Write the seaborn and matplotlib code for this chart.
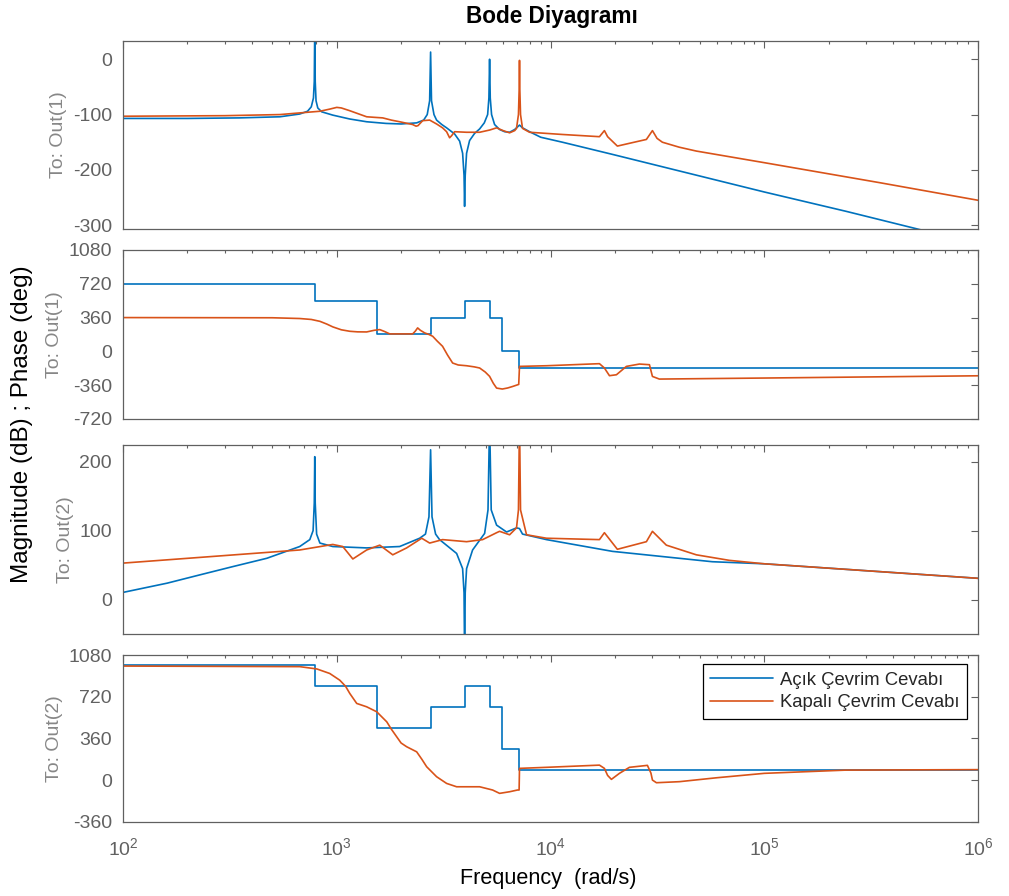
import matplotlib
matplotlib.use("Agg")
import matplotlib.pyplot as plt
import seaborn as sns
from matplotlib.ticker import LogLocator, NullFormatter, FixedLocator

# ---- frequency responses (rad/s, dB, deg) ----
# Output 1, magnitude
mag1_open_w = [100, 200, 350, 542, 671, 730, 760, 778, 785, 789, 793, 800, 815, 850, 958, 1150,
               1380, 1700, 2000, 2365, 2550, 2650, 2720, 2748, 2775, 2850, 2931, 3100, 3265,
               3558, 3757, 3880, 3940, 3963, 3990, 4049, 4182, 4415, 4660, 4900, 5080, 5150,
               5188, 5225, 5300, 5475, 5778, 6100, 6435, 6800, 7160, 7398, 7980, 9000, 11370,
               19480, 40070, 100000, 241400, 546700]
mag1_open_db = [-107, -107, -106, -104, -99, -94, -86, -70, -40, 60, -40, -75, -88, -95, -101, -108,
                -113, -116, -117, -115, -110, -100, -75, 13, -75, -100, -110, -118, -124,
                -135, -148, -170, -210, -266, -210, -170, -147, -134, -126, -115, -100, -70,
                0, -70, -100, -118, -127, -131, -132, -127, -119, -124, -131, -141, -150,
                -172, -202, -240, -275, -309]

mag1_closed_w = [100, 300, 542, 671, 834, 930, 1000, 1050, 1150, 1380, 1500, 1641, 1800, 1969,
                 2265, 2350, 2400, 2523, 2721, 2931, 3126, 3265, 3373, 3450, 3558, 4049, 4660,
                 5188, 5594, 6000, 6435, 6800, 6933, 7080, 7140, 7160, 7180, 7240, 7398, 7980,
                 11370, 16940, 17870, 18500, 20550, 24000, 28090, 29980, 31500, 33370, 40000,
                 48100, 100000, 344500, 1000000]
mag1_closed_db = [-103, -102, -100, -97, -94, -90, -87, -88, -93, -104, -105, -106, -110, -113,
                  -118, -121, -120, -111, -110, -117, -124, -131, -142, -138, -131, -132, -132,
                  -128, -124, -129, -133, -129, -125, -100, -50, -2, -50, -100, -125, -132,
                  -136, -140, -129, -140, -157, -151, -145, -129, -143, -150, -159,
                  -166, -187, -223, -255]

# Output 1, phase
ph1_open_w = [100, 789, 1538, 2748, 3963, 5188, 5904, 7160, 1000000]
ph1_open_deg = [720, 540, 180, 360, 540, 360, 0, -180, -180]

ph1_closed_w = [100, 500, 671, 760, 834, 900, 958, 1050, 1151, 1250, 1380, 1500, 1589, 1680,
                1770, 2265, 2330, 2390, 2460, 2577, 2700, 2810, 2950, 3126, 3300, 3484, 3700,
                4049, 4400, 4660, 4950, 5188, 5400, 5594, 5950, 6300, 6647, 7100, 7160, 9580,
                16940, 17870, 18870, 20340, 22650, 26050, 29030, 29980, 32300, 100000, 1000000]
ph1_closed_deg = [360, 358, 350, 340, 320, 290, 261, 230, 214, 208, 207, 225, 232, 210,
                  186, 186, 215, 250, 225, 197, 180, 161, 110, 54, -40, -124, -145,
                  -153, -165, -177, -220, -266, -340, -391, -401, -390, -374, -352, -160, -153,
                  -131, -177, -259, -249, -160, -135, -142, -267, -295, -284, -260]

# Output 2, magnitude
mag2_open_w = [100, 161, 229, 327, 471, 671, 748, 775, 785, 789, 793, 805, 834, 958, 1380, 1969,
               2443, 2600, 2700, 2748, 2790, 2900, 3027, 3637, 3880, 3940, 3963, 3990, 4049,
               4320, 4918, 5100, 5188, 5280, 5594, 6230, 6933, 7160, 7398, 9580, 19480, 57150,
               100000, 1000000]
mag2_open_db = [10.6, 24, 36, 48, 60, 77, 87, 100, 140, 207, 140, 95, 82, 77, 75, 77,
                89, 95, 120, 217, 120, 95, 87, 67, 45, 10, -80, 10, 45,
                72, 96, 130, 260, 130, 108, 98, 104, 103, 95, 87, 70, 55,
                52, 31]

mag2_closed_w = [100, 671, 958, 1067, 1189, 1380, 1589, 1828, 2123, 2497, 2721, 3126, 4049,
                 4813, 5594, 5778, 6435, 6933, 7080, 7160, 7240, 7724, 9580, 16940, 17870,
                 20550, 28090, 29980, 34820, 48100, 68570, 100000, 1000000]
mag2_closed_db = [53, 72, 80, 77, 59, 72, 79, 65, 75, 89, 82, 87, 84,
                  87, 97, 99, 94, 104, 130, 260, 130, 94, 89, 87, 97,
                  73, 84, 99, 79, 65, 57, 52, 31]

# Output 2, phase
ph2_open_w = [100, 789, 1538, 2748, 3963, 5188, 5904, 7160, 1000000]
ph2_open_deg = [990, 810, 450, 630, 810, 630, 270, 90, 90]

ph2_closed_w = [100, 671, 807, 927, 1033, 1100, 1151, 1240, 1380, 1538, 1714, 1800, 1907, 2000,
                2123, 2365, 2500, 2634, 2931, 3265, 3637, 4660, 5358, 5778, 6435, 7009, 7130,
                7160, 9580, 16940, 17870, 18500, 19270, 21010, 23400, 28400, 29500, 29980,
                31290, 40070, 60000, 100000, 241400, 1000000]
ph2_closed_deg = [985, 980, 960, 921, 863, 810, 748, 662, 633, 590, 503, 440, 374, 320,
                  288, 244, 180, 115, 29, -29, -58, -58, -86, -115, -101, -86, -86,
                  101, 110, 129, 101, 40, 6, 58, 110, 127, 60, 0,
                  -23, -14, 20, 58, 86, 90]

series_labels = ["Açık Çevrim Cevabı", "Kapalı Çevrim Cevabı"]
row_labels = ["To: Out(1)", "To: Out(1)", "To: Out(2)", "To: Out(2)"]
y_ticks = [[-300, -200, -100, 0],
           [-720, -360, 0, 360, 720, 1080],
           [0, 100, 200],
           [-360, 0, 360, 720, 1080]]
y_limits = [(-307, 33), (-720, 1080), (-50, 224), (-360, 1080)]

# ---- styling ----
sns.set_theme(style="white")
plt.rcParams["font.family"] = ["Liberation Sans", "DejaVu Sans"]
plt.rcParams["mathtext.fontset"] = "custom"
plt.rcParams["mathtext.rm"] = "Liberation Sans"
plt.rcParams["axes.unicode_minus"] = False

BLUE = "#0072BD"
ORANGE = "#D95319"
FRAME = "#606060"
TICK_TXT = "#616161"
ROW_TXT = "#878787"
LW = 1.2

fig = plt.figure(figsize=(10.09, 8.96), dpi=100)
left, width = 0.1219, 0.8474
boxes = [(0.7444, 0.2098), (0.5324, 0.1886), (0.2921, 0.2113), (0.0829, 0.1860)]
axes = [fig.add_axes([left, b, width, h]) for b, h in boxes]

panels = [
    (mag1_open_w, mag1_open_db, mag1_closed_w, mag1_closed_db, False),
    (ph1_open_w, ph1_open_deg, ph1_closed_w, ph1_closed_deg, True),
    (mag2_open_w, mag2_open_db, mag2_closed_w, mag2_closed_db, False),
    (ph2_open_w, ph2_open_deg, ph2_closed_w, ph2_closed_deg, True),
]

for i, (ax, (wo, vo, wc, vc, stepped)) in enumerate(zip(axes, panels)):
    last = i == 3
    open_kw = dict(drawstyle="steps-post") if stepped else {}
    sns.lineplot(x=wo, y=vo, ax=ax, color=BLUE, lw=LW, estimator=None, sort=False,
                 label=series_labels[0] if last else None, **open_kw)
    sns.lineplot(x=wc, y=vc, ax=ax, color=ORANGE, lw=LW, estimator=None, sort=False,
                 label=series_labels[1] if last else None)

    ax.set_xscale("log")
    ax.set_xlim(1e2, 1e6)
    ax.set_ylim(*y_limits[i])
    ax.yaxis.set_major_locator(FixedLocator(y_ticks[i]))
    ax.xaxis.set_major_locator(LogLocator(base=10, numticks=10))
    ax.xaxis.set_minor_locator(LogLocator(base=10, subs=range(2, 10), numticks=20))
    ax.xaxis.set_minor_formatter(NullFormatter())
    if not last:
        ax.tick_params(axis="x", which="both", labelbottom=False)

    ax.tick_params(which="both", direction="in", top=True, right=True, color=FRAME,
                   labelcolor=TICK_TXT, labelsize=14, width=0.8)
    ax.tick_params(which="major", length=5, pad=8)
    ax.tick_params(which="minor", length=2.5)
    ax.tick_params(axis="x", which="major", pad=11)
    for s in ax.spines.values():
        s.set_color(FRAME)
        s.set_linewidth(0.9)
    ax.set_xlabel("")
    ax.set_ylabel(row_labels[i], color=ROW_TXT, fontsize=14, labelpad=4)

leg = axes[3].legend(loc="upper right", bbox_to_anchor=(0.987, 0.946), borderaxespad=0,
                     fontsize=13.3, frameon=True, fancybox=False, framealpha=1,
                     edgecolor="black", handlelength=3.4, handletextpad=0.35,
                     labelspacing=0.3, borderpad=0.42)
leg.get_frame().set_linewidth(0.9)

fig.text(0.5466, 1 - 16 / 896, "Bode Diyagramı", ha="center", va="center",
         fontsize=16.3, fontweight="bold", color="black")
fig.text(0.543, 1 - 878 / 896, "Frequency  (rad/s)", ha="center", va="center",
         fontsize=15.6, color="black")
fig.text(22 / 1009, 1 - 424 / 896, "Magnitude (dB) ; Phase (deg)", ha="center", va="center",
         rotation=90, fontsize=17.5, color="black")

fig.savefig("out.png", dpi=100, facecolor="white")
